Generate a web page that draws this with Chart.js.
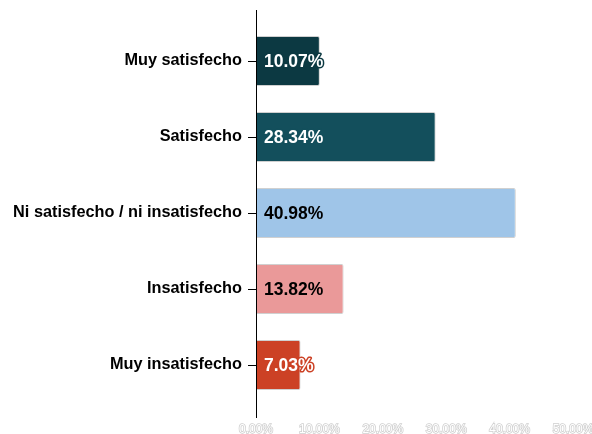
<!DOCTYPE html>
<html>
<head>
<meta charset="utf-8">
<script src="https://cdn.jsdelivr.net/npm/chart.js@4.4.0/dist/chart.umd.min.js"></script>
<style>
  html, body { margin: 0; padding: 0; background: #fff; }
  #wrap { width: 592px; height: 434px; }
</style>
</head>
<body>
<div id="wrap"><canvas id="myChart" width="592" height="434"></canvas></div>
<script>
'use strict';

// DATA
const categories = [
  'Muy satisfecho',
  'Satisfecho',
  'Ni satisfecho / ni insatisfecho',
  'Insatisfecho',
  'Muy insatisfecho',
];
const shares = [10.07, 28.34, 40.98, 13.82, 7.03];
const xTicks = [0, 10, 20, 30, 40, 50];

// colours per bar, and whether the label is light on dark
const barColors = ['#0c3942', '#134f5c', '#9fc5e8', '#ea9999', '#cc4125'];
const labelLight = [true, true, false, false, true];

// value labels at the start of each bar
const valueLabels = {
  id: 'valueLabels',
  afterDatasetsDraw(chart) {
    const ctx = chart.ctx;
    const meta = chart.getDatasetMeta(0);
    ctx.save();
    ctx.font = 'bold 17.5px "Liberation Sans", Arial, sans-serif';
    ctx.textBaseline = 'middle';
    ctx.textAlign = 'left';
    ctx.lineJoin = 'round';
    meta.data.forEach(function (bar, i) {
      const txt = shares[i].toFixed(2) + '%';
      const x = bar.base + 8;
      const y = bar.y + 1;
      if (labelLight[i]) {
        ctx.strokeStyle = barColors[i];
        ctx.lineWidth = 3;
        ctx.strokeText(txt, x, y);
        ctx.fillStyle = '#ffffff';
      } else {
        ctx.fillStyle = '#000000';
      }
      ctx.fillText(txt, x, y);
    });
    ctx.restore();
  },
};

// vertical axis line, a bit longer than the plot area
const axisLine = {
  id: 'axisLine',
  afterDraw(chart) {
    const ctx = chart.ctx;
    const area = chart.chartArea;
    ctx.save();
    ctx.strokeStyle = '#000';
    ctx.lineWidth = 1;
    ctx.beginPath();
    ctx.moveTo(area.left + 0.5, area.top - 13);
    ctx.lineTo(area.left + 0.5, area.bottom + 15);
    ctx.stroke();
    ctx.restore();
  },
};

const ctx = document.getElementById('myChart').getContext('2d');

const chart = new Chart(ctx, {
  type: 'bar',
  data: {
    labels: categories,
    datasets: [
      {
        data: shares,
        backgroundColor: barColors,
        borderColor: 'rgba(120,120,120,0.35)',
        borderWidth: 1,
        borderRadius: 2,
        borderSkipped: 'start',
        barPercentage: 0.66,
        categoryPercentage: 1,
      },
    ],
  },
  options: {
    indexAxis: 'y',
    responsive: false,
    animation: false,
    layout: { padding: { top: 23, right: 0, bottom: 0, left: 0 } },
    plugins: {
      legend: { display: false },
      tooltip: { enabled: false },
    },
    scales: {
      x: {
        min: 0,
        max: 50,
        afterBuildTicks(scale) {
          scale.ticks = xTicks.map(v => ({ value: v }));
        },
        afterFit(scale) {
          scale.height = 31;
          scale.paddingRight = 19;
        },
        grid: { display: false, drawTicks: false },
        border: { display: false },
        ticks: {
          padding: 19,
          maxRotation: 0,
          minRotation: 0,
          autoSkip: false,
          color: '#ffffff',
          textStrokeColor: '#cfcfcf',
          textStrokeWidth: 1.5,
          font: { family: '"Liberation Sans", Arial, sans-serif', size: 12 },
          callback: v => v.toFixed(2) + '%',
        },
      },
      y: {
        afterFit(scale) {
          scale.width = 256;
        },
        grid: {
          display: true,
          drawOnChartArea: false,
          offset: false,
          tickLength: 8,
          color: '#000',
        },
        border: { display: false },
        ticks: {
          padding: 6,
          color: '#000',
          font: { family: '"Liberation Sans", Arial, sans-serif', size: 16.3, weight: 'bold' },
        },
      },
    },
  },
  plugins: [valueLabels, axisLine],
});
</script>
</body>
</html>
